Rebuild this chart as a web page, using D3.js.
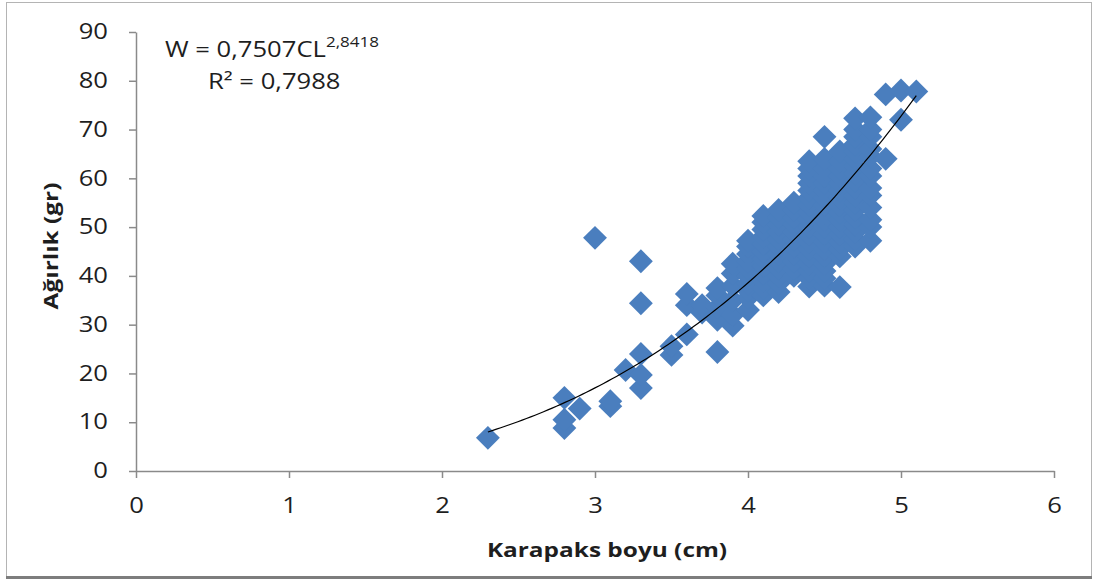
<!DOCTYPE html>
<html>
<head>
<meta charset="utf-8">
<script src="https://cdn.jsdelivr.net/npm/d3@7"></script>
<style>
  html, body { margin: 0; padding: 0; background: #fff; }
  svg { display: block; }
  text { font-family: "Open Sans", "Noto Sans", sans-serif; fill: #1e1e1e; }
</style>
</head>
<body>
<svg id="chart" width="1094" height="583"></svg>
<script>
// Carapace length (cm) groups and the weights (g) measured at each length
const lengths = [2.3, 2.8, 2.9, 3.0, 3.1, 3.2, 3.3, 3.5, 3.6, 3.7, 3.8, 3.9, 4.0, 4.1, 4.2, 4.3, 4.4, 4.5, 4.6, 4.7, 4.8, 4.9, 5.0, 5.1];
const weightsByLength = [
  [6.8],
  [8.8, 10.5, 15.0],
  [12.8],
  [47.8],
  [13.3, 14.3],
  [20.7],
  [17.0, 19.7, 24.0, 34.4, 43.0],
  [23.8, 25.6],
  [28.0, 34.0, 36.3],
  [32.5, 34.0],
  [24.4, 31.0, 33.5, 36.0, 37.5],
  [29.8, 32.0, 35.0, 38.0, 40.5, 42.5],
  [33.0, 35.5, 37.0, 38.5, 40.0, 41.5, 43.0, 44.5, 46.0, 47.2],
  [36.0, 37.5, 39.0, 40.5, 42.0, 43.5, 45.0, 46.5, 48.0, 49.5, 51.0, 52.3],
  [36.7, 38.5, 40.0, 41.5, 43.0, 44.5, 46.0, 47.5, 49.0, 50.5, 52.0, 53.5],
  [40.0, 41.5, 43.0, 44.5, 46.0, 47.5, 49.0, 50.5, 52.0, 53.5, 55.0],
  [37.8, 39.5, 41.0, 42.5, 44.0, 45.5, 47.0, 48.5, 50.0, 51.5, 53.0, 54.5, 56.0, 57.5, 59.0, 60.5, 62.0, 63.5],
  [38.0, 39.5, 41.0, 42.5, 44.0, 45.5, 47.0, 48.5, 50.0, 51.5, 53.0, 54.5, 56.0, 57.5, 59.0, 60.5, 62.0, 64.0, 68.5],
  [37.7, 44.0, 45.5, 47.0, 48.5, 50.0, 51.5, 53.0, 54.5, 56.0, 57.5, 59.0, 60.5, 62.0, 63.5, 65.5],
  [46.0, 47.5, 49.0, 50.5, 52.0, 53.5, 55.0, 56.5, 58.0, 59.5, 61.0, 62.5, 64.0, 65.5, 67.0, 68.5, 70.0, 72.3],
  [47.2, 50.0, 51.5, 54.0, 56.5, 58.0, 60.5, 62.0, 64.5, 66.0, 68.5, 70.0, 72.5],
  [64.0, 77.2],
  [72.0, 78.0],
  [77.8]
];

// Power regression W = a * CL^b
const coefA = 0.7507;
const coefB = 2.8418;
const rSquared = 0.7988;

const xTicks = [0, 1, 2, 3, 4, 5, 6];
const yTicks = [0, 10, 20, 30, 40, 50, 60, 70, 80, 90];

const points = lengths.flatMap((cl, i) => weightsByLength[i].map(w => ({ cl, w })));

// Horizontal widening applied to all labels (wide sans look)
const stretch = 1.22;
const comma = v => d3.format(".4f")(v).replace(".", ",");

const svg = d3.select("#chart");

// Outer chart frame
svg.append("rect")
  .attr("x", 6.5).attr("y", 2.5)
  .attr("width", 1085).attr("height", 574)
  .attr("fill", "#fff")
  .attr("stroke", "#b4b4b4").attr("stroke-width", 1);
svg.append("line")
  .attr("x1", 6).attr("x2", 1092)
  .attr("y1", 577.5).attr("y2", 577.5)
  .attr("stroke", "#7d7d7d").attr("stroke-width", 3);

const x = d3.scaleLinear().domain([0, 6]).range([136, 1054]);
const y = d3.scaleLinear().domain([0, 90]).range([471, 32]);

const axisColor = "#8a8a8a";

const gx = svg.append("g")
  .attr("transform", `translate(0,${y(0)})`)
  .call(d3.axisBottom(x).tickValues(xTicks).tickFormat(d3.format("d"))
    .tickSizeInner(7).tickSizeOuter(0).tickPadding(20));
const gy = svg.append("g")
  .attr("transform", `translate(${x(0)},0)`)
  .call(d3.axisLeft(y).tickValues(yTicks).tickFormat(d3.format("d"))
    .tickSizeInner(7).tickSizeOuter(0).tickPadding(21));

[gx, gy].forEach(g => {
  g.select(".domain").attr("stroke", axisColor).attr("stroke-width", 1.5);
  g.selectAll(".tick line").attr("stroke", axisColor).attr("stroke-width", 1.5);
  g.selectAll(".tick text")
    .attr("fill", "#1e1e1e")
    .style("font-family", "'Open Sans', sans-serif")
    .style("font-size", "21px");
});
gx.selectAll(".tick text").attr("transform", `scale(${stretch},1)`);
gy.selectAll(".tick text")
  .attr("x", -28 / stretch)
  .attr("transform", `scale(${stretch},1)`);

// Data markers: rotated squares
const diamond = d3.symbol().type(d3.symbolSquare).size(285);
svg.append("g")
  .selectAll("path")
  .data(points)
  .join("path")
  .attr("d", diamond)
  .attr("transform", d => `translate(${x(d.cl)},${y(d.w)}) rotate(45)`)
  .attr("fill", "#4a7ebe");

// Power trend line over the observed length range
const [clMin, clMax] = d3.extent(lengths);
const curveX = d3.range(0, 101).map(i => clMin + (clMax - clMin) * i / 100);
svg.append("path")
  .datum(curveX)
  .attr("fill", "none")
  .attr("stroke", "#000")
  .attr("stroke-width", 1.2)
  .attr("d", d3.line().x(c => x(c)).y(c => y(coefA * Math.pow(c, coefB))));

// Regression equation
const eq = svg.append("g")
  .attr("transform", `translate(165,57) scale(${stretch},1)`)
  .append("text")
  .style("font-size", "21px");
eq.append("tspan").text(`W = ${comma(coefA)}CL`);
eq.append("tspan")
  .attr("dy", -10)
  .style("font-size", "14px")
  .text(comma(coefB));

svg.append("g")
  .attr("transform", `translate(208,89) scale(${stretch},1)`)
  .append("text")
  .style("font-size", "21px")
  .text(`R² = ${comma(rSquared)}`);

// Axis titles
svg.append("g")
  .attr("transform", `translate(607,557) scale(${stretch},1)`)
  .append("text")
  .attr("text-anchor", "middle")
  .style("font-size", "20px").style("font-weight", "bold")
  .text("Karapaks boyu (cm)");

svg.append("g")
  .attr("transform", `translate(58,246) rotate(-90) scale(${stretch},1)`)
  .append("text")
  .attr("text-anchor", "middle")
  .style("font-size", "20px").style("font-weight", "bold")
  .text("Ağırlık (gr)");
</script>
</body>
</html>
